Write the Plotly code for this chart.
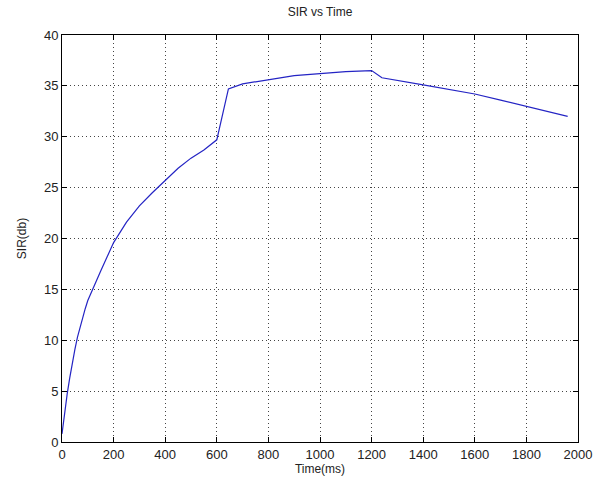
import plotly.graph_objects as go

time_ms = [0, 10, 20, 30, 40, 50, 60, 70, 80, 90, 100, 125, 150, 175, 200, 250, 300, 350, 400, 450, 500, 550, 600,
           645, 700, 800, 900, 1000, 1100, 1200, 1240, 1400, 1600, 1700, 1800, 1960]
sir_db = [0.8, 3.0, 4.7, 6.3, 7.8, 9.1, 10.3, 11.3, 12.2, 13.1, 13.9, 15.4, 16.8, 18.2, 19.6, 21.6, 23.2, 24.5, 25.7, 26.9, 27.9, 28.7, 29.7,
          34.7, 35.2, 35.6, 36.0, 36.2, 36.4, 36.5, 35.8, 35.1, 34.2, 33.6, 33.0, 32.0]

x_ticks = [0, 200, 400, 600, 800, 1000, 1200, 1400, 1600, 1800, 2000]
y_ticks = [0, 5, 10, 15, 20, 25, 30, 35, 40]

FONT = "Liberation Sans, Arial, sans-serif"

fig = go.Figure()
fig.add_trace(go.Scatter(x=time_ms, y=sir_db, mode="lines", line_shape="linear",
                         line=dict(color="#2424c4", width=1.2), showlegend=False))

axis_common = dict(
    showline=True, linecolor="black", linewidth=1, mirror="ticks",
    ticks="inside", ticklen=5, tickcolor="black",
    showgrid=True, gridcolor="#444444", griddash="1px,3px", gridwidth=1,
    zeroline=False, automargin=False,
    tickfont=dict(family=FONT, size=13, color="#222222"),
)

fig.update_layout(
    width=598, height=485,
    margin=dict(l=62, r=20, t=35, b=43, autoexpand=False),
    paper_bgcolor="white", plot_bgcolor="white",
    title=dict(text="SIR vs Time", x=0.5, xanchor="center", xref="paper",
               yref="container", y=0.975, yanchor="middle",
               font=dict(family=FONT, size=12, color="#222222")),
    xaxis=dict(range=[0, 2000], tickvals=x_ticks,
               title=dict(text="Time(ms)", standoff=3,
                          font=dict(family=FONT, size=12, color="#222222")),
               **axis_common),
    yaxis=dict(range=[0, 40], tickvals=y_ticks,
               title=dict(text="SIR(db)", standoff=14,
                          font=dict(family=FONT, size=12, color="#222222")),
               **axis_common),
)

fig.write_html("out.html", config={"displayModeBar": False},
               post_script="document.body.style.margin='0px';document.body.style.overflow='hidden';")
